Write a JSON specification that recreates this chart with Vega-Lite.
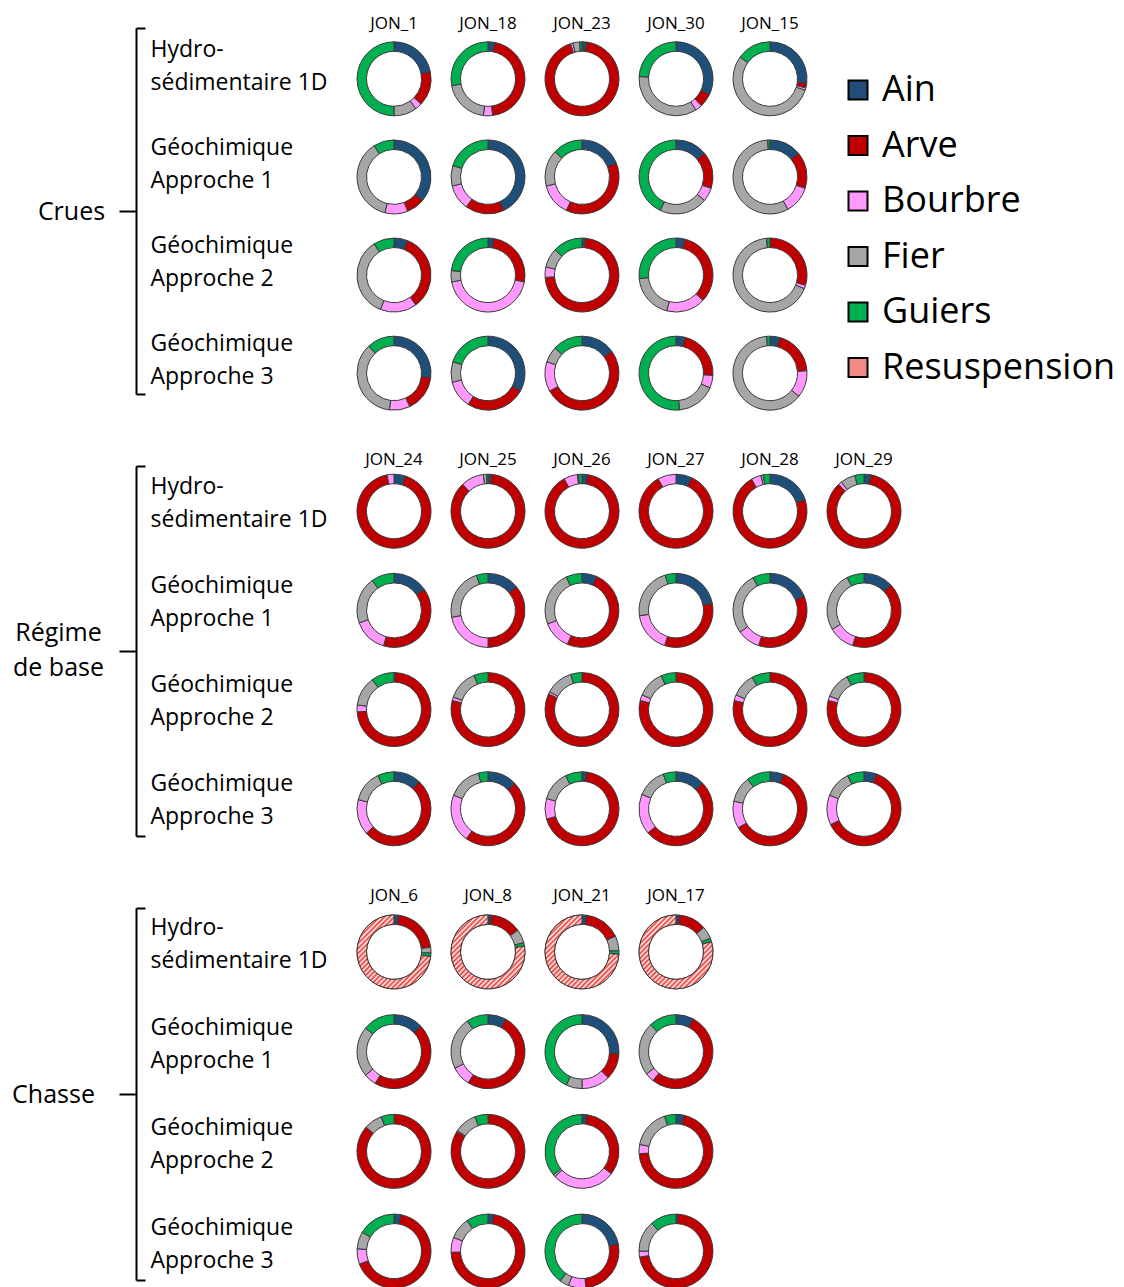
{
  "$schema": "https://vega.github.io/schema/vega-lite/v6.json",
  "padding": {"left": 11, "top": 14, "right": 5, "bottom": 0},
  "config": {"font": "Open Sans", "view": {"stroke": null}, "axis": {"grid": false}},
  "data": {"values": [
    {"g":"Crues","s":"JON_1","m":"H","Ain":22,"Arve":15,"Bourbre":3,"Fier":10,"Guiers":50},
    {"g":"Crues","s":"JON_1","m":"A1","Ain":36,"Arve":8,"Bourbre":10,"Fier":37,"Guiers":9},
    {"g":"Crues","s":"JON_1","m":"A2","Ain":6,"Arve":34,"Bourbre":16,"Fier":35,"Guiers":9},
    {"g":"Crues","s":"JON_1","m":"A3","Ain":27,"Arve":16,"Bourbre":9,"Fier":36,"Guiers":12},
    {"g":"Crues","s":"JON_18","m":"H","Ain":3,"Arve":45,"Bourbre":4,"Fier":20,"Guiers":28},
    {"g":"Crues","s":"JON_18","m":"A1","Ain":43,"Arve":17,"Bourbre":11,"Fier":9,"Guiers":20},
    {"g":"Crues","s":"JON_18","m":"A2","Ain":2.5,"Arve":25.5,"Bourbre":44,"Fier":5,"Guiers":23},
    {"g":"Crues","s":"JON_18","m":"A3","Ain":33,"Arve":26,"Bourbre":12,"Fier":9,"Guiers":20},
    {"g":"Crues","s":"JON_23","m":"H","Ain":2,"Arve":93,"Bourbre":1,"Fier":3,"Guiers":1},
    {"g":"Crues","s":"JON_23","m":"A1","Ain":19,"Arve":38,"Bourbre":14,"Fier":16,"Guiers":13},
    {"g":"Crues","s":"JON_23","m":"A2","Ain":1.5,"Arve":72.5,"Bourbre":4.5,"Fier":8.5,"Guiers":13},
    {"g":"Crues","s":"JON_23","m":"A3","Ain":15,"Arve":52,"Bourbre":13,"Fier":7,"Guiers":13},
    {"g":"Crues","s":"JON_30","m":"H","Ain":32,"Arve":6,"Bourbre":3,"Fier":35,"Guiers":24},
    {"g":"Crues","s":"JON_30","m":"A1","Ain":14,"Arve":16,"Bourbre":6,"Fier":21,"Guiers":43},
    {"g":"Crues","s":"JON_30","m":"A2","Ain":4,"Arve":33,"Bourbre":17,"Fier":19.5,"Guiers":26.5},
    {"g":"Crues","s":"JON_30","m":"A3","Ain":4,"Arve":22,"Bourbre":5.5,"Fier":17,"Guiers":51.5},
    {"g":"Crues","s":"JON_15","m":"H","Ain":27,"Arve":2,"Bourbre":1,"Fier":55,"Guiers":15},
    {"g":"Crues","s":"JON_15","m":"A1","Ain":14,"Arve":16,"Bourbre":12,"Fier":57,"Guiers":1},
    {"g":"Crues","s":"JON_15","m":"A2","Ain":0,"Arve":29.5,"Bourbre":1.5,"Fier":67.5,"Guiers":1.5},
    {"g":"Crues","s":"JON_15","m":"A3","Ain":4.3,"Arve":19.7,"Bourbre":11.7,"Fier":62.8,"Guiers":1.5},
    {"g":"Regime","s":"JON_24","m":"H","Ain":5,"Arve":92,"Bourbre":3,"Fier":0,"Guiers":0},
    {"g":"Regime","s":"JON_24","m":"A1","Ain":15.4,"Arve":39.2,"Bourbre":14.9,"Fier":20.5,"Guiers":10},
    {"g":"Regime","s":"JON_24","m":"A2","Ain":0.5,"Arve":73.5,"Bourbre":3,"Fier":13,"Guiers":10},
    {"g":"Regime","s":"JON_24","m":"A3","Ain":12,"Arve":51.5,"Bourbre":15.5,"Fier":13.8,"Guiers":7.2},
    {"g":"Regime","s":"JON_25","m":"H","Ain":1.5,"Arve":86.5,"Bourbre":10,"Fier":1.5,"Guiers":0.5},
    {"g":"Regime","s":"JON_25","m":"A1","Ain":14,"Arve":36,"Bourbre":22,"Fier":23,"Guiers":5},
    {"g":"Regime","s":"JON_25","m":"A2","Ain":0,"Arve":79,"Bourbre":1.5,"Fier":13.3,"Guiers":6.2},
    {"g":"Regime","s":"JON_25","m":"A3","Ain":13,"Arve":47,"Bourbre":21,"Fier":14.8,"Guiers":4.2},
    {"g":"Regime","s":"JON_26","m":"H","Ain":2.5,"Arve":89.5,"Bourbre":6,"Fier":0.5,"Guiers":1.5},
    {"g":"Regime","s":"JON_26","m":"A1","Ain":6.5,"Arve":50,"Bourbre":12.5,"Fier":24,"Guiers":7},
    {"g":"Regime","s":"JON_26","m":"A2","Ain":0,"Arve":82,"Bourbre":1,"Fier":12,"Guiers":5},
    {"g":"Regime","s":"JON_26","m":"A3","Ain":2,"Arve":68.5,"Bourbre":9,"Fier":13.2,"Guiers":7.3},
    {"g":"Regime","s":"JON_27","m":"H","Ain":7,"Arve":85,"Bourbre":8,"Fier":0,"Guiers":0},
    {"g":"Regime","s":"JON_27","m":"A1","Ain":22,"Arve":33,"Bourbre":17.7,"Fier":22.6,"Guiers":4.7},
    {"g":"Regime","s":"JON_27","m":"A2","Ain":0,"Arve":79,"Bourbre":2.5,"Fier":12,"Guiers":6.5},
    {"g":"Regime","s":"JON_27","m":"A3","Ain":12.8,"Arve":50.9,"Bourbre":17.7,"Fier":13,"Guiers":5.6},
    {"g":"Regime","s":"JON_28","m":"H","Ain":20,"Arve":71.7,"Bourbre":4.3,"Fier":1,"Guiers":3},
    {"g":"Regime","s":"JON_28","m":"A1","Ain":18.8,"Arve":36.2,"Bourbre":10,"Fier":27.4,"Guiers":7.6},
    {"g":"Regime","s":"JON_28","m":"A2","Ain":0,"Arve":79,"Bourbre":2.5,"Fier":10.5,"Guiers":8},
    {"g":"Regime","s":"JON_28","m":"A3","Ain":6,"Arve":60.4,"Bourbre":11.9,"Fier":11.4,"Guiers":10.3},
    {"g":"Regime","s":"JON_29","m":"H","Ain":3,"Arve":85,"Bourbre":1.5,"Fier":6.5,"Guiers":4},
    {"g":"Regime","s":"JON_29","m":"A1","Ain":13,"Arve":42,"Bourbre":11.5,"Fier":26,"Guiers":7.5},
    {"g":"Regime","s":"JON_29","m":"A2","Ain":0.3,"Arve":78.7,"Bourbre":2,"Fier":11.4,"Guiers":7.6},
    {"g":"Regime","s":"JON_29","m":"A3","Ain":5.5,"Arve":62.5,"Bourbre":13,"Fier":11.7,"Guiers":7.3},
    {"g":"Chasse","s":"JON_6","m":"H","Ain":2,"Arve":21,"Bourbre":0,"Fier":2.5,"Guiers":1.5,"Resuspension":73},
    {"g":"Chasse","s":"JON_6","m":"A1","Ain":13,"Arve":45.5,"Bourbre":5.5,"Fier":22,"Guiers":14},
    {"g":"Chasse","s":"JON_6","m":"A2","Ain":0,"Arve":86.4,"Bourbre":0,"Fier":8,"Guiers":5.6},
    {"g":"Chasse","s":"JON_6","m":"A3","Ain":3,"Arve":66.3,"Bourbre":6.7,"Fier":7.5,"Guiers":16.5},
    {"g":"Chasse","s":"JON_8","m":"H","Ain":1.5,"Arve":13.5,"Bourbre":0,"Fier":6,"Guiers":1.5,"Resuspension":77.5},
    {"g":"Chasse","s":"JON_8","m":"A1","Ain":8,"Arve":51,"Bourbre":8.6,"Fier":23,"Guiers":9.4},
    {"g":"Chasse","s":"JON_8","m":"A2","Ain":0,"Arve":84,"Bourbre":0.5,"Fier":9.8,"Guiers":5.7},
    {"g":"Chasse","s":"JON_8","m":"A3","Ain":2.5,"Arve":72,"Bourbre":6.5,"Fier":9.4,"Guiers":9.6},
    {"g":"Chasse","s":"JON_21","m":"H","Ain":2,"Arve":16,"Bourbre":0,"Fier":6.5,"Guiers":1.5,"Resuspension":74},
    {"g":"Chasse","s":"JON_21","m":"A1","Ain":26,"Arve":11.5,"Bourbre":12.5,"Fier":7,"Guiers":43},
    {"g":"Chasse","s":"JON_21","m":"A2","Ain":2,"Arve":33.4,"Bourbre":27.6,"Fier":1,"Guiers":36},
    {"g":"Chasse","s":"JON_21","m":"A3","Ain":22,"Arve":26.3,"Bourbre":7.7,"Fier":4,"Guiers":40},
    {"g":"Chasse","s":"JON_17","m":"H","Ain":1.5,"Arve":12,"Bourbre":0,"Fier":5.5,"Guiers":1.5,"Resuspension":79.5},
    {"g":"Chasse","s":"JON_17","m":"A1","Ain":7.7,"Arve":53,"Bourbre":4,"Fier":23.3,"Guiers":12},
    {"g":"Chasse","s":"JON_17","m":"A2","Ain":3.5,"Arve":70.5,"Bourbre":4,"Fier":17,"Guiers":5},
    {"g":"Chasse","s":"JON_17","m":"A3","Ain":0.8,"Arve":71.6,"Bourbre":2.6,"Fier":13.6,"Guiers":11.4}
  ]},
  "resolve": {"scale": {"color": "independent"}, "legend": {"color": "independent"}},
  "spacing": 37,
  "vconcat": [
    {
      "width": 470, "height": 366,
      "transform": [
        {"filter": "datum.g === 'Crues'"},
        {"fold": ["Ain","Arve","Bourbre","Fier","Guiers","Resuspension"], "as": ["source","value"]},
        {"filter": "isValid(datum.value) && datum.value > 0"},
        {"stack": "value", "groupby": ["s","m"], "sort": [{"field": "source", "order": "ascending"}], "as": ["v0","v1"], "offset": "normalize"}
      ],
      "resolve": {"axis": {"y": "independent"}},
      "layer": [
        {
          "mark": {"type": "arc", "radius": 37, "radius2": 27.5, "stroke": "#3a3a3a", "strokeWidth": 1, "yOffset": 15},
          "encoding": {
            "x": {"field": "s", "type": "nominal", "scale": {"type": "band", "domain": ["JON_1","JON_18","JON_23","JON_30","JON_15"], "paddingInner": 0, "paddingOuter": 0},
                  "axis": {"orient": "top", "title": null, "domain": false, "ticks": false, "labelAngle": 0, "labelFont": "Open Sans", "labelFontSize": 17, "labelColor": "black", "labelPadding": -4}},
            "y": {"field": "m", "type": "nominal", "scale": {"type": "band", "domain": ["H","A1","A2","A3"], "paddingInner": 0.27, "paddingOuter": 0},
                  "axis": {"orient": "left", "offset": 211, "title": "Crues", "titleAngle": 0, "titleX": -65, "titleY": 183, "titleAlign": "center", "titleBaseline": "middle", "titleFont": "Open Sans", "titleFontSize": 25, "titleFontWeight": "normal", "titleColor": "black",
                           "domainColor": "black", "domainWidth": 2, "tickColor": "black", "tickWidth": 2, "tickSize": 17, "tickOffset": 49,
                           "tickOpacity": {"condition": {"test": "datum.value === 'A1'", "value": 1}, "value": 0},
                           "labelExpr": "datum.value === 'H' ? ['Hydro-', 'sédimentaire 1D'] : ['Géochimique', 'Approche ' + slice(datum.value, 1)]",
                           "labelAlign": "left", "labelBaseline": "middle", "labelPadding": -31, "labelOffset": -63.5, "labelFont": "Open Sans", "labelFontSize": 23, "labelColor": "black", "labelLineHeight": 33, "labelLimit": 0, "labelOverlap": false, "labelBound": false, "labelFlush": false}},
            "theta": {"field": "v0", "type": "quantitative", "scale": {"domain": [0, 1], "range": [0, 6.283185]}},
            "theta2": {"field": "v1"},
            "color": {"field": "source", "type": "nominal",
                      "scale": {"domain": ["Ain","Arve","Bourbre","Fier","Guiers","Resuspension"], "range": ["#1F4E79","#C00000","#FF99FF","#A6A6A6","#00B050","#F08A84"]},
                      "legend": {"orient": "none", "legendX": 493, "legendY": 44, "title": null, "symbolType": "square", "symbolSize": 361, "symbolStrokeWidth": 2, "symbolStrokeColor": "black",
                                 "labelFont": "Open Sans", "labelFontSize": 36, "labelColor": "black", "labelOffset": 6, "rowPadding": 19.5, "labelLimit": 0, "padding": 0,
                                 "encode": {"symbols": {"update": {"stroke": {"value": "black"}, "strokeWidth": {"value": 2}, "opacity": {"value": 1}}}}}}
          }
        },
        {
          "transform": [{"filter": "datum.source === 'Resuspension'"}],
          "mark": {"type": "arc", "radius": 37, "radius2": 27.5, "stroke": "#3a3a3a", "strokeWidth": 1, "yOffset": 15, "fill": "#F3B1AB"},
          "encoding": {
            "x": {"field": "s", "type": "nominal", "scale": {"type": "band", "domain": ["JON_1","JON_18","JON_23","JON_30","JON_15"], "paddingInner": 0, "paddingOuter": 0},
                  "axis": {"orient": "top", "title": null, "domain": false, "ticks": false, "labelAngle": 0, "labelFont": "Open Sans", "labelFontSize": 17, "labelColor": "black", "labelPadding": -4}},
            "y": {"field": "m", "type": "nominal", "scale": {"type": "band", "domain": ["H","A1","A2","A3"], "paddingInner": 0.27, "paddingOuter": 0},
                  "axis": {"orient": "left", "offset": 211, "title": null, "labels": false, "domain": false, "tickBand": "extent", "tickSize": -9, "tickWidth": 2, "tickColor": "black",
                           "tickOpacity": {"condition": {"test": "datum.extra || datum.value === 'A3'", "value": 1}, "value": 0}}},
            "theta": {"field": "v0", "type": "quantitative", "scale": {"domain": [0, 1], "range": [0, 6.283185]}},
            "theta2": {"field": "v1"}
          }
        }
      ]
    },
    {
      "width": 564, "height": 370,
      "transform": [
        {"filter": "datum.g === 'Regime'"},
        {"fold": ["Ain","Arve","Bourbre","Fier","Guiers","Resuspension"], "as": ["source","value"]},
        {"filter": "isValid(datum.value) && datum.value > 0"},
        {"stack": "value", "groupby": ["s","m"], "sort": [{"field": "source", "order": "ascending"}], "as": ["v0","v1"], "offset": "normalize"}
      ],
      "resolve": {"axis": {"y": "independent"}},
      "layer": [
        {
          "mark": {"type": "arc", "radius": 37, "radius2": 27.5, "stroke": "#3a3a3a", "strokeWidth": 1, "yOffset": 9},
          "encoding": {
            "x": {"field": "s", "type": "nominal", "scale": {"type": "band", "domain": ["JON_24","JON_25","JON_26","JON_27","JON_28","JON_29"], "paddingInner": 0, "paddingOuter": 0},
                  "axis": {"orient": "top", "title": null, "domain": false, "ticks": false, "labelAngle": 0, "labelFont": "Open Sans", "labelFontSize": 17, "labelColor": "black", "labelPadding": -2}},
            "y": {"field": "m", "type": "nominal", "scale": {"type": "band", "domain": ["H","A1","A2","A3"], "paddingInner": 0.27, "paddingOuter": 0},
                  "axis": {"orient": "left", "offset": 211, "title": ["Régime", "de base"], "titleAngle": 0, "titleX": -78, "titleY": 166, "titleAlign": "center", "titleBaseline": "middle", "titleFont": "Open Sans", "titleFontSize": 25, "titleFontWeight": "normal", "titleColor": "black", "titleLineHeight": 35,
                           "domainColor": "black", "domainWidth": 2, "tickColor": "black", "tickWidth": 2, "tickSize": 17, "tickOffset": 49.6,
                           "tickOpacity": {"condition": {"test": "datum.value === 'A1'", "value": 1}, "value": 0},
                           "labelExpr": "datum.value === 'H' ? ['Hydro-', 'sédimentaire 1D'] : ['Géochimique', 'Approche ' + slice(datum.value, 1)]",
                           "labelAlign": "left", "labelBaseline": "middle", "labelPadding": -31, "labelOffset": -65.6, "labelFont": "Open Sans", "labelFontSize": 23, "labelColor": "black", "labelLineHeight": 33, "labelLimit": 0, "labelOverlap": false, "labelBound": false, "labelFlush": false}},
            "theta": {"field": "v0", "type": "quantitative", "scale": {"domain": [0, 1], "range": [0, 6.283185]}},
            "theta2": {"field": "v1"},
            "color": {"field": "source", "type": "nominal",
                      "scale": {"domain": ["Ain","Arve","Bourbre","Fier","Guiers","Resuspension"], "range": ["#1F4E79","#C00000","#FF99FF","#A6A6A6","#00B050","#F3B1AB"]},
                      "legend": null}
          }
        },
        {
          "transform": [{"filter": "datum.source === 'Resuspension'"}],
          "mark": {"type": "arc", "radius": 37, "radius2": 27.5, "stroke": "#3a3a3a", "strokeWidth": 1, "yOffset": 9, "fill": "#F3B1AB"},
          "encoding": {
            "x": {"field": "s", "type": "nominal", "scale": {"type": "band", "domain": ["JON_24","JON_25","JON_26","JON_27","JON_28","JON_29"], "paddingInner": 0, "paddingOuter": 0},
                  "axis": {"orient": "top", "title": null, "domain": false, "ticks": false, "labelAngle": 0, "labelFont": "Open Sans", "labelFontSize": 17, "labelColor": "black", "labelPadding": -2}},
            "y": {"field": "m", "type": "nominal", "scale": {"type": "band", "domain": ["H","A1","A2","A3"], "paddingInner": 0.27, "paddingOuter": 0},
                  "axis": {"orient": "left", "offset": 211, "title": null, "labels": false, "domain": false, "tickBand": "extent", "tickSize": -9, "tickWidth": 2, "tickColor": "black",
                           "tickOpacity": {"condition": {"test": "datum.extra || datum.value === 'A3'", "value": 1}, "value": 0}}},
            "theta": {"field": "v0", "type": "quantitative", "scale": {"domain": [0, 1], "range": [0, 6.283185]}},
            "theta2": {"field": "v1"}
          }
        }
      ]
    },
    {
      "width": 376, "height": 372,
      "transform": [
        {"filter": "datum.g === 'Chasse'"},
        {"fold": ["Ain","Arve","Bourbre","Fier","Guiers","Resuspension"], "as": ["source","value"]},
        {"filter": "isValid(datum.value) && datum.value > 0"},
        {"stack": "value", "groupby": ["s","m"], "sort": [{"field": "source", "order": "ascending"}], "as": ["v0","v1"], "offset": "normalize"}
      ],
      "resolve": {"axis": {"y": "independent"}},
      "layer": [
        {
          "mark": {"type": "arc", "radius": 37, "radius2": 27.5, "stroke": "#3a3a3a", "strokeWidth": 1, "yOffset": 7.5},
          "encoding": {
            "x": {"field": "s", "type": "nominal", "scale": {"type": "band", "domain": ["JON_6","JON_8","JON_21","JON_17"], "paddingInner": 0, "paddingOuter": 0},
                  "axis": {"orient": "top", "title": null, "domain": false, "ticks": false, "labelAngle": 0, "labelFont": "Open Sans", "labelFontSize": 17, "labelColor": "black", "labelPadding": 4}},
            "y": {"field": "m", "type": "nominal", "scale": {"type": "band", "domain": ["H","A1","A2","A3"], "paddingInner": 0.27, "paddingOuter": 0},
                  "axis": {"orient": "left", "offset": 211, "title": "Chasse", "titleAngle": 0, "titleX": -83, "titleY": 186, "titleAlign": "center", "titleBaseline": "middle", "titleFont": "Open Sans", "titleFontSize": 25, "titleFontWeight": "normal", "titleColor": "black",
                           "domainColor": "black", "domainWidth": 2, "tickColor": "black", "tickWidth": 2, "tickSize": 17, "tickOffset": 49.9,
                           "tickOpacity": {"condition": {"test": "datum.value === 'A1'", "value": 1}, "value": 0},
                           "labelExpr": "datum.value === 'H' ? ['Hydro-', 'sédimentaire 1D'] : ['Géochimique', 'Approche ' + slice(datum.value, 1)]",
                           "labelAlign": "left", "labelBaseline": "middle", "labelPadding": -31, "labelOffset": -66.4, "labelFont": "Open Sans", "labelFontSize": 23, "labelColor": "black", "labelLineHeight": 33, "labelLimit": 0, "labelOverlap": false, "labelBound": false, "labelFlush": false}},
            "theta": {"field": "v0", "type": "quantitative", "scale": {"domain": [0, 1], "range": [0, 6.283185]}},
            "theta2": {"field": "v1"},
            "color": {"field": "source", "type": "nominal",
                      "scale": {"domain": ["Ain","Arve","Bourbre","Fier","Guiers","Resuspension"], "range": ["#1F4E79","#C00000","#FF99FF","#A6A6A6","#00B050","#F3B1AB"]},
                      "legend": null}
          }
        },
        {
          "transform": [{"filter": "datum.source === 'Resuspension'"}],
          "mark": {"type": "arc", "radius": 37, "radius2": 27.5, "stroke": "#3a3a3a", "strokeWidth": 1, "yOffset": 7.5,
                   "fill": {"gradient": "linear", "x1": 0, "y1": 0, "x2": 1, "y2": 1, "stops": [
                     {"offset":0,"color":"#E53935"},{"offset":0.0167,"color":"#FFF0F0"},{"offset":0.0333,"color":"#E53935"},{"offset":0.05,"color":"#FFF0F0"},{"offset":0.0667,"color":"#E53935"},{"offset":0.0833,"color":"#FFF0F0"},{"offset":0.1,"color":"#E53935"},{"offset":0.1167,"color":"#FFF0F0"},{"offset":0.1333,"color":"#E53935"},{"offset":0.15,"color":"#FFF0F0"},{"offset":0.1667,"color":"#E53935"},{"offset":0.1833,"color":"#FFF0F0"},{"offset":0.2,"color":"#E53935"},{"offset":0.2167,"color":"#FFF0F0"},{"offset":0.2333,"color":"#E53935"},{"offset":0.25,"color":"#FFF0F0"},{"offset":0.2667,"color":"#E53935"},{"offset":0.2833,"color":"#FFF0F0"},{"offset":0.3,"color":"#E53935"},{"offset":0.3167,"color":"#FFF0F0"},{"offset":0.3333,"color":"#E53935"},{"offset":0.35,"color":"#FFF0F0"},{"offset":0.3667,"color":"#E53935"},{"offset":0.3833,"color":"#FFF0F0"},{"offset":0.4,"color":"#E53935"},{"offset":0.4167,"color":"#FFF0F0"},{"offset":0.4333,"color":"#E53935"},{"offset":0.45,"color":"#FFF0F0"},{"offset":0.4667,"color":"#E53935"},{"offset":0.4833,"color":"#FFF0F0"},{"offset":0.5,"color":"#E53935"},{"offset":0.5167,"color":"#FFF0F0"},{"offset":0.5333,"color":"#E53935"},{"offset":0.55,"color":"#FFF0F0"},{"offset":0.5667,"color":"#E53935"},{"offset":0.5833,"color":"#FFF0F0"},{"offset":0.6,"color":"#E53935"},{"offset":0.6167,"color":"#FFF0F0"},{"offset":0.6333,"color":"#E53935"},{"offset":0.65,"color":"#FFF0F0"},{"offset":0.6667,"color":"#E53935"},{"offset":0.6833,"color":"#FFF0F0"},{"offset":0.7,"color":"#E53935"},{"offset":0.7167,"color":"#FFF0F0"},{"offset":0.7333,"color":"#E53935"},{"offset":0.75,"color":"#FFF0F0"},{"offset":0.7667,"color":"#E53935"},{"offset":0.7833,"color":"#FFF0F0"},{"offset":0.8,"color":"#E53935"},{"offset":0.8167,"color":"#FFF0F0"},{"offset":0.8333,"color":"#E53935"},{"offset":0.85,"color":"#FFF0F0"},{"offset":0.8667,"color":"#E53935"},{"offset":0.8833,"color":"#FFF0F0"},{"offset":0.9,"color":"#E53935"},{"offset":0.9167,"color":"#FFF0F0"},{"offset":0.9333,"color":"#E53935"},{"offset":0.95,"color":"#FFF0F0"},{"offset":0.9667,"color":"#E53935"},{"offset":0.9833,"color":"#FFF0F0"},{"offset":1,"color":"#E53935"}]}},
          "encoding": {
            "x": {"field": "s", "type": "nominal", "scale": {"type": "band", "domain": ["JON_6","JON_8","JON_21","JON_17"], "paddingInner": 0, "paddingOuter": 0},
                  "axis": {"orient": "top", "title": null, "domain": false, "ticks": false, "labelAngle": 0, "labelFont": "Open Sans", "labelFontSize": 17, "labelColor": "black", "labelPadding": 4}},
            "y": {"field": "m", "type": "nominal", "scale": {"type": "band", "domain": ["H","A1","A2","A3"], "paddingInner": 0.27, "paddingOuter": 0},
                  "axis": {"orient": "left", "offset": 211, "title": null, "labels": false, "domain": false, "tickBand": "extent", "tickSize": -9, "tickWidth": 2, "tickColor": "black",
                           "tickOpacity": {"condition": {"test": "datum.extra || datum.value === 'A3'", "value": 1}, "value": 0}}},
            "theta": {"field": "v0", "type": "quantitative", "scale": {"domain": [0, 1], "range": [0, 6.283185]}},
            "theta2": {"field": "v1"}
          }
        }
      ]
    }
  ]
}
